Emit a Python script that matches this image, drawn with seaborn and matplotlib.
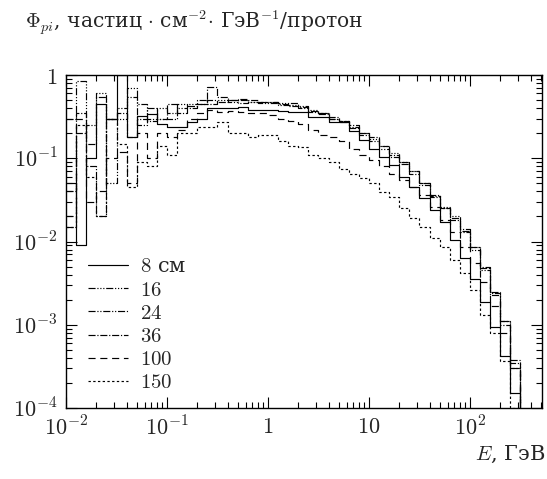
import numpy as np
import pandas as pd
import matplotlib
matplotlib.use('Agg')
import matplotlib.pyplot as plt
import seaborn as sns

sns.set_style('ticks')
plt.rcParams['font.family'] = ['DejaVu Serif']
plt.rcParams['mathtext.fontset'] = 'cm'

# log-uniform bins, 10 per decade, 0.01 .. ~316 GeV
edges = 10 ** np.linspace(-2, 2.5, 46)

flux_8 = [0.05, 0.009, 0.1, 0.45, 0.3, 1.0, 0.18, 0.32, 0.34, 0.26,
          0.24, 0.24, 0.27, 0.3, 0.4, 0.4, 0.4, 0.41, 0.38, 0.38,
          0.38, 0.37, 0.36, 0.36, 0.31, 0.31, 0.27, 0.27, 0.21, 0.165,
          0.13, 0.105, 0.083, 0.06, 0.045, 0.033, 0.024, 0.017, 0.0105, 0.0064,
          0.0036, 0.0019, 0.00093, 0.00042, 0.00015]
flux_16 = [0.04, 0.85, 0.15, 0.6, 0.3, 0.4, 0.7, 0.45, 0.3, 0.4,
           0.35, 0.45, 0.42, 0.5, 0.45, 0.5, 0.48, 0.5, 0.47, 0.48,
           0.47, 0.46, 0.46, 0.42, 0.38, 0.35, 0.3, 0.28, 0.24, 0.2,
           0.17, 0.14, 0.115, 0.09, 0.07, 0.05, 0.036, 0.026, 0.02, 0.014,
           0.0085, 0.0048, 0.0025, 0.0011, 0.00035]
flux_24 = [0.015, 0.2, 0.25, 0.55, 0.05, 0.3, 0.55, 0.25, 0.4, 0.3,
           0.3, 0.4, 0.45, 0.45, 0.5, 0.47, 0.5, 0.46, 0.47, 0.46,
           0.46, 0.44, 0.44, 0.4, 0.36, 0.34, 0.3, 0.27, 0.23, 0.19,
           0.16, 0.13, 0.105, 0.085, 0.065, 0.048, 0.034, 0.025, 0.018, 0.013,
           0.008, 0.0045, 0.0023, 0.001, 0.0003]
flux_36 = [0.3, 0.35, 0.08, 0.02, 0.3, 0.35, 0.18, 0.3, 0.28, 0.3,
           0.45, 0.35, 0.4, 0.45, 0.72, 0.55, 0.5, 0.52, 0.5, 0.47,
           0.47, 0.45, 0.43, 0.41, 0.37, 0.35, 0.31, 0.28, 0.25, 0.2,
           0.18, 0.14, 0.11, 0.09, 0.07, 0.05, 0.035, 0.025, 0.019, 0.0135,
           0.0085, 0.005, 0.0024, 0.0011, 0.00038]
flux_100 = [0.02, 0.3, 0.03, 0.04, 0.1, 0.12, 0.05, 0.2, 0.1, 0.2,
            0.18, 0.22, 0.3, 0.35, 0.38, 0.36, 0.37, 0.36, 0.35, 0.35,
            0.33, 0.3, 0.28, 0.26, 0.22, 0.19, 0.18, 0.16, 0.13, 0.11,
            0.095, 0.08, 0.065, 0.055, 0.045, 0.036, 0.026, 0.018, 0.013, 0.0085,
            0.0055, 0.0033, 0.0017, 0.0008, 0.0003]
flux_150 = [0.015, 0.25, 0.06, 0.02, 0.3, 0.15, 0.045, 0.09, 0.08, 0.14,
            0.11, 0.2, 0.2, 0.24, 0.24, 0.27, 0.2, 0.2, 0.18, 0.19,
            0.19, 0.16, 0.14, 0.137, 0.11, 0.1, 0.09, 0.075, 0.065, 0.058,
            0.05, 0.039, 0.034, 0.025, 0.019, 0.015, 0.011, 0.0087, 0.006, 0.0042,
            0.0026, 0.0013, 0.0008, 0.00037, 0.0001]

labels = ['$8$ см', '$16$', '$24$', '$36$', '$100$', '$150$']
series = [flux_8, flux_16, flux_24, flux_36, flux_100, flux_150]

rows = []
for lab, vals in zip(labels, series):
    # last point drops the step to the floor
    for e, v in zip(edges, list(vals) + [1e-6]):
        rows.append({'E': e, 'flux': v, 'depth': lab})
df = pd.DataFrame(rows)

dash_map = {
    '$8$ см': '',
    '$16$': (6, 1.5, 1, 1.5, 1, 1.5, 1, 1.5),
    '$24$': (6, 1.5, 1, 1.5, 1, 1.5),
    '$36$': (6, 1.5, 1, 1.5),
    '$100$': (6, 4),
    '$150$': (2, 2),
}

fig = plt.figure(figsize=(5.47, 4.79), dpi=100)
ax = fig.add_axes([0.1207, 0.148, 0.870, 0.6954])

sns.lineplot(data=df, x='E', y='flux', style='depth', dashes=dash_map,
             color='black', drawstyle='steps-post', estimator=None,
             sort=False, lw=0.85, ax=ax)

ax.set_xscale('log')
ax.set_yscale('log')
ax.set_xlim(0.01, 516)
ax.set_ylim(1e-4, 1)

ax.set_xticks([0.01, 0.1, 1, 10, 100])
ax.set_xticklabels([r'$10^{-2}$', r'$10^{-1}$', r'$1$', r'$10$', r'$10^{2}$'])
ax.set_yticks([1e-4, 1e-3, 1e-2, 1e-1, 1])
ax.set_yticklabels([r'$10^{-4}$', r'$10^{-3}$', r'$10^{-2}$', r'$10^{-1}$', r'$1$'])
ax.tick_params(which='both', direction='in', top=True, right=True,
               labelsize=16, width=0.8, color='black')
ax.tick_params(which='major', length=8, pad=6)
ax.tick_params(which='minor', length=4)
for sp in ax.spines.values():
    sp.set_linewidth(1.0)
    sp.set_color('black')

ax.set_xlabel('')
ax.set_ylabel('')
fig.text(0.868, 0.03, r'$E$, ГэВ', fontsize=15, ha='left', va='bottom')
fig.text(0.045, 0.922, r'$\Phi_{pi}$, частиц$\,\cdot\,$см$^{-2}\!\cdot\,$ГэВ$^{-1}$/протон',
         fontsize=14.6, ha='left', va='bottom')

handles, labs = ax.get_legend_handles_labels()
ax.legend(handles, labs, loc='upper left', bbox_to_anchor=(0.02, 0.49),
          frameon=False, fontsize=15, handlelength=1.9, handletextpad=0.6,
          labelspacing=0.2, borderaxespad=0.2)

fig.savefig('out.png', dpi=100)
